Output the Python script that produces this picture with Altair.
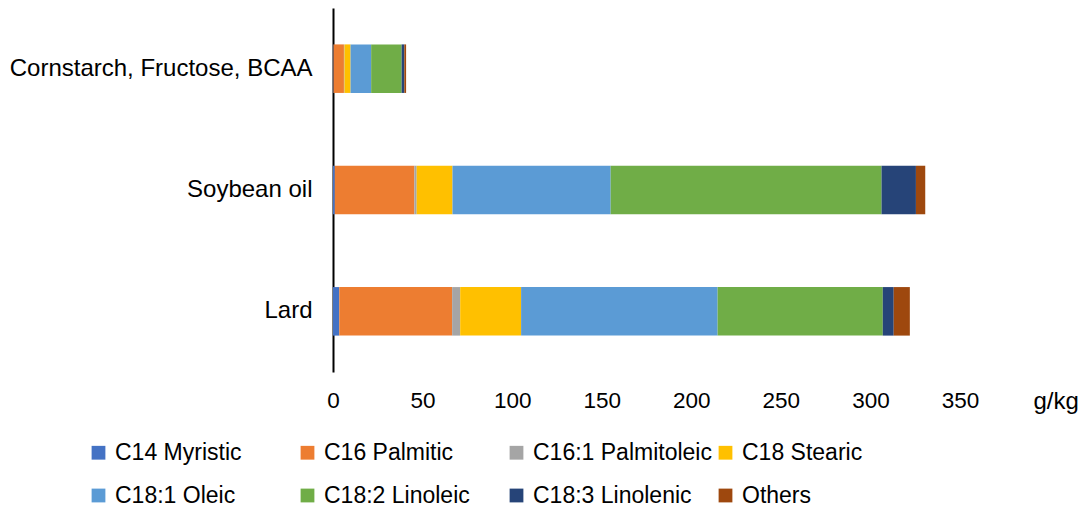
import altair as alt
import pandas as pd

# Diets (bar categories, top to bottom) and fatty-acid series in stacking order
diets = ["Cornstarch, Fructose, BCAA", "Soybean oil", "Lard"]
fatty_acids = [
    "C14 Myristic", "C16 Palmitic", "C16:1 Palmitoleic", "C18 Stearic",
    "C18:1 Oleic", "C18:2 Linoleic", "C18:3 Linolenic", "Others",
]
colors = ["#4472C4", "#ED7D31", "#A5A5A5", "#FFC000",
          "#5B9BD5", "#70AD47", "#264478", "#9E480E"]

# Fatty-acid content in g/kg per diet, same order as fatty_acids
cornstarch = [0.3, 5.8, 0.3, 3.4, 11.5, 17.0, 1.5, 1.0]
soybean = [1.0, 44.4, 1.3, 20.0, 88.3, 151.2, 19.2, 5.2]
lard = [3.5, 63.0, 4.5, 34.0, 109.7, 92.2, 6.1, 9.0]

x_ticks = [0, 50, 100, 150, 200, 250, 300, 350]

rows = []
for diet, vals in zip(diets, [cornstarch, soybean, lard]):
    for i, (fa, v) in enumerate(zip(fatty_acids, vals)):
        rows.append({"diet": diet, "fatty_acid": fa, "order": i, "value": v})
df = pd.DataFrame(rows)

chart = alt.Chart(df).mark_bar().encode(
    y=alt.Y(
        "diet:N",
        sort=diets,
        scale=alt.Scale(paddingInner=0.6, paddingOuter=0.3),
        axis=alt.Axis(
            title=None, labelFontSize=24, labelPadding=21, labelColor="#000000",
            ticks=False, domainColor="#000000", domainWidth=2, labelLimit=400,
        ),
    ),
    x=alt.X(
        "value:Q",
        stack="zero",
        scale=alt.Scale(domain=[0, 350], nice=False),
        axis=alt.Axis(
            values=x_ticks, grid=False, domain=False, ticks=False,
            labelFontSize=22.5, labelPadding=17, labelColor="#000000", labelFlush=False,
            title="g/kg", titleFontSize=24, titleFontWeight="normal", titleColor="#000000",
            titleX=700, titleY=36, titleAlign="left", titleBaseline="alphabetic",
        ),
    ),
    color=alt.Color(
        "fatty_acid:N",
        scale=alt.Scale(domain=fatty_acids, range=colors),
        legend=alt.Legend(
            title=None, orient="none", direction="horizontal",
            legendX=-246, legendY=433, columns=4,
            symbolType="square", symbolSize=190, symbolStrokeWidth=0,
            labelFontSize=23, labelOffset=5, labelColor="#000000", labelLimit=300,
            columnPadding=2, rowPadding=19, gridAlign="all", padding=0,
        ),
    ),
    order=alt.Order("order:Q"),
).properties(
    width=627,
    height=364,
    autosize=alt.AutoSizeParams(type="none"),
    padding={"left": 333, "top": 8, "right": 125, "bottom": 141},
).configure(font="Liberation Sans").configure_view(stroke=None)

chart.save("out.html", embed_options={"renderer": "svg", "actions": False})
